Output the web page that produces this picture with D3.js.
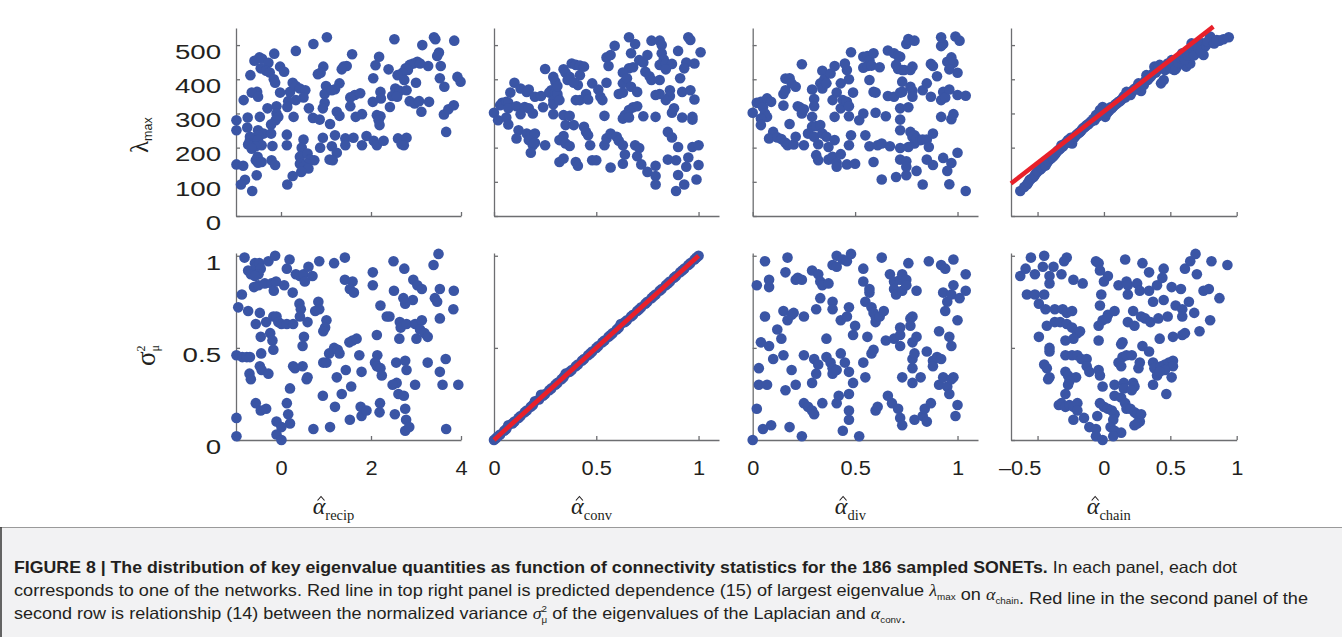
<!DOCTYPE html>
<html lang="en">
<head>
<meta charset="utf-8">
<title>SONET eigenvalue quantities</title>
<script src="https://cdn.jsdelivr.net/npm/d3@7/dist/d3.min.js"></script>
<style>
  body { margin: 0; background: #fff; }
  svg { display: block; }
</style>
</head>
<body>
<script>
// ---- data: [alpha-hat, value] per network ----
var recipLambda = [[1.02,523],[0.72,503],[0.33,483],[-0.15,475],[-0.48,464],[-0.59,454],[-0.42,460],[-0.28,448],[-0.45,432],[-0.33,425],[-0.25,420],[-0.02,437],[0.07,422],[-0.68,412],[1.58,473],[2.18,466],[2.52,517],[3.14,500],[3.40,523],[3.43,517],[3.85,513],[3.51,478],[3.47,468],[3.55,439],[3.27,439],[2.39,429],[2.10,441],[0.94,437],[0.88,419],[0.82,415],[1.39,437],[1.46,439],[1.35,429],[3.03,451],[2.94,446],[2.86,442],[2.82,427],[2.77,432],[2.70,419],[3.09,446],
  [-0.16,400],[-0.13,390],[2.59,412],[2.74,398],[3.00,390],[3.53,403],[3.63,378],[3.92,407],[3.99,393],[2.05,403],[1.00,380],[0.97,357],[1.30,388],[1.20,371],[1.13,368],[0.26,390],[0.20,363],[0.33,380],[0.42,373],[0.54,368],[0.50,347],[0.33,339],[0.16,336],[0.14,319],[-0.02,361],[-0.53,363],[-0.65,361],[-0.51,349],[-0.83,339],[-0.30,315],[-0.10,321],[1.64,354],[1.76,359],[1.54,347],[1.54,321],[2.21,363],[2.22,344],[2.04,334],[2.54,373],[2.64,366],[2.79,368],[2.47,351],[2.58,349],[2.86,336],[2.97,329],[3.07,336],[3.29,334],
  [0.97,331],[0.93,315],[0.62,315],[0.28,290],[-0.10,300],[-0.06,290],[-0.12,280],[-0.22,268],[-0.47,290],[-0.74,288],[-0.99,280],[-0.75,259],[-0.99,251],[1.24,305],[1.30,293],[1.66,290],[1.80,298],[2.13,295],[2.21,292],[2.17,280],[2.19,266],[2.42,319],[3.12,305],[3.62,297],[3.72,312],[3.84,324],[0.71,287],[0.86,282],[1.09,269],[-0.51,251],[-0.39,241],[-0.22,241],[-0.51,236],[0.13,238],[-0.69,232],[3.67,246],
  [-0.69,222],[-0.71,212],[-0.51,222],[-0.43,207],[-0.56,204],[-0.73,209],[-0.65,197],[-0.19,205],[0.13,207],[0.50,224],[0.46,200],[0.93,229],[0.87,200],[1.13,204],[1.20,236],[1.24,185],[1.43,227],[1.61,229],[1.43,207],[1.80,207],[1.90,234],[2.06,220],[2.13,207],[2.28,220],[2.60,227],[2.68,210],[2.79,229],[2.73,207],[0.48,183],[0.42,173],[0.59,183],[0.65,165],[0.74,163],[0.57,153],[0.42,153],[0.50,144],[0.61,139],[0.45,129],[1.08,165],[1.15,163],[-0.52,173],[-0.56,163],[-0.51,156],[-0.43,158],[-0.21,163],[-0.13,149],[-0.99,151],[-0.84,147],
  [-0.54,119],[0.26,117],[0.14,92],[-0.80,106],[-0.89,92],[-0.64,73]];

var convLambda = [[0.00,302],[0.02,280],[0.04,331],[0.03,324],[0.06,334],[0.07,331],[0.07,315],[0.06,288],[0.07,268],[0.08,361],[0.10,390],[0.11,321],[0.13,298],[0.13,373],[0.15,319],[0.16,363],[0.17,370],[0.17,315],[0.19,300],[0.20,349],[0.23,351],[0.24,318],[0.12,251],[0.11,227],[0.16,241],[0.18,236],[0.20,241],[0.17,222],[0.19,207],[0.18,185],[0.20,214],[0.25,207],[0.25,430],[0.29,407],[0.30,393],[0.28,368],[0.27,361],[0.30,363],[0.31,349],[0.29,339],[0.29,327],[0.29,298],[0.31,357],[0.32,339],[0.31,380],
  [0.34,429],[0.35,419],[0.38,446],[0.37,407],[0.40,442],[0.42,440],[0.44,437],[0.42,412],[0.41,383],[0.36,398],[0.39,390],[0.40,339],[0.42,339],[0.45,357],[0.46,341],[0.48,388],[0.51,370],[0.52,349],[0.53,339],[0.55,390],[0.54,293],[0.34,295],[0.37,293],[0.35,266],[0.39,266],[0.44,261],[0.45,246],[0.46,236],[0.47,207],[0.32,222],[0.34,234],[0.35,212],[0.37,205],[0.32,158],[0.34,168],[0.40,158],[0.41,147],[0.48,163],[0.50,163],[0.54,207],[0.55,227],[0.57,142],[0.57,241],[0.60,232],[0.61,220],[0.63,207],[0.64,180],[0.63,153],[0.55,464],[0.57,471],[0.59,498],[0.56,439],
  [0.66,523],[0.69,503],[0.67,476],[0.71,456],[0.73,449],[0.75,471],[0.77,513],[0.81,513],[0.82,500],[0.82,476],[0.83,458],[0.81,442],[0.84,446],[0.87,445],[0.90,483],[0.95,523],[0.96,515],[1.01,479],[0.98,446],[0.94,449],[0.93,432],[0.91,403],[0.74,422],[0.76,409],[0.77,398],[0.66,432],[0.68,435],[0.63,420],[0.64,393],[0.63,388],[0.65,403],[0.67,378],[0.70,363],[0.61,357],[0.63,361],[0.81,398],[0.84,429],[0.86,368],[0.86,351],[0.84,339],[0.81,357],[0.79,354],[0.92,363],[0.96,368],[0.98,341],[0.68,318],[0.70,321],[0.66,310],[0.64,295],[0.63,285],[0.66,288],[0.73,292],[0.79,290],[0.87,302],[0.88,315],[0.92,288],[0.97,290],[0.97,282],[0.69,207],[0.71,199],[0.70,175],[0.72,151],[0.75,129],[0.79,147],[0.79,117],[0.79,92],[0.85,246],[0.87,230],[0.90,202],[0.85,165],[0.89,163],[0.95,171],[0.94,144],[0.90,120],[0.93,92],[0.89,73],[0.97,202],[1.00,207],[1.00,149],[0.99,107]];

var divLambda = [[0.00,302],[0.02,331],[0.04,334],[0.05,318],[0.07,344],[0.09,334],[0.06,300],[0.07,290],[0.04,285],[0.04,266],[0.10,246],[0.08,227],[0.12,230],[0.14,225],[0.16,214],[0.17,207],[0.20,209],[0.21,232],[0.18,269],[0.15,323],[0.15,357],[0.16,368],[0.16,402],[0.18,403],[0.19,388],[0.21,378],[0.24,444],[0.25,207],
  [0.22,321],[0.23,318],[0.24,300],[0.25,312],[0.29,370],[0.30,342],[0.30,321],[0.29,290],[0.29,261],[0.31,263],[0.33,266],[0.27,241],[0.30,232],[0.32,210],[0.31,178],[0.32,163],[0.34,241],[0.36,232],[0.37,202],[0.37,165],[0.39,173],[0.41,155],[0.41,144],[0.40,222],[0.43,181],[0.47,207],[0.48,236],[0.46,151],[0.50,153],[0.33,388],[0.34,425],[0.34,373],[0.35,400],[0.36,388],[0.38,417],[0.40,439],[0.41,361],[0.43,388],[0.45,446],[0.46,427],[0.47,400],[0.48,479],[0.49,361],[0.39,339],[0.43,315],[0.44,339],[0.46,334],[0.47,321],[0.47,292],[0.40,290],
  [0.52,280],[0.54,300],[0.55,236],[0.57,204],[0.59,158],[0.60,302],[0.61,207],[0.63,212],[0.63,107],[0.65,292],[0.67,204],[0.70,114],[0.72,315],[0.72,282],[0.72,251],[0.72,199],[0.72,165],[0.75,119],[0.75,160],[0.75,144],[0.73,393],[0.66,351],[0.69,349],[0.72,361],[0.73,363],[0.76,318],[0.77,378],[0.78,366],[0.78,349],[0.77,246],[0.78,232],[0.79,212],[0.79,236],[0.76,202],[0.54,466],[0.56,468],[0.57,456],[0.59,476],[0.54,434],[0.56,439],[0.58,440],[0.62,435],[0.57,398],[0.59,363],[0.60,361],[0.66,484],[0.69,476],[0.71,468],[0.72,466],[0.70,442],[0.71,430],[0.73,427],[0.74,427],[0.77,427],[0.78,437],[0.75,503],[0.76,518],[0.79,513],
  [0.80,132],[0.83,92],[0.80,227],[0.82,222],[0.83,224],[0.85,224],[0.86,202],[0.88,241],[0.85,165],[0.88,149],[0.83,368],[0.85,388],[0.87,349],[0.87,445],[0.88,439],[0.90,409],[0.92,290],[0.92,339],[0.93,363],[0.94,347],[0.96,370],[0.97,283],[0.98,298],[1.00,354],[1.04,352],[0.93,170],[0.97,155],[0.95,132],[0.96,93],[1.00,185],[1.04,73],[0.92,497],[0.93,503],[0.92,523],[0.99,525],[1.01,513],[0.95,451],[0.97,464],[0.98,448],[0.96,429],[1.00,419]];

var chainLambda = [[-0.63,73],[-0.58,92],[-0.56,105],[-0.53,114],[-0.51,126],[-0.48,136],[-0.46,144],[-0.43,155],[-0.41,165],[-0.38,175],[-0.36,185],[-0.33,197],[-0.32,207],[-0.29,212],[-0.27,222],[-0.24,212],[-0.23,227],[-0.21,236],[-0.18,246],[-0.16,256],[-0.13,266],[-0.11,271],[-0.07,280],[-0.06,295],[-0.03,310],[-0.01,319],[0.01,290],[0.03,305],[0.06,315],[0.08,324],[0.11,334],[0.13,339],[0.16,347],[0.17,363],[0.20,354],[0.22,368],[0.25,378],[0.26,388],[0.28,366],[0.30,383],[0.32,412],[0.33,398],[0.35,407],[0.37,417],[0.38,437],[0.40,427],[0.42,442],[0.43,388],[0.45,398],[0.46,427],[0.48,446],[0.51,456],[0.53,427],[0.55,437],[0.57,456],[0.59,476],[0.60,466],[0.62,437],[0.65,446],[0.66,505],[0.69,476],[0.70,486],[0.72,500],[0.75,471],[0.76,495],[0.80,525],[0.81,515],[0.87,513],[0.94,523],
  [-0.60,85],[-0.57,98],[-0.55,108],[-0.52,120],[-0.50,130],[-0.47,140],[-0.45,150],[-0.44,148],[-0.42,160],[-0.40,168],[-0.39,172],[-0.37,180],[-0.35,190],[-0.34,194],[-0.31,203],[-0.30,210],[-0.28,217],[-0.26,224],[-0.25,229],[-0.22,232],[-0.20,240],[-0.19,243],[-0.17,250],[-0.15,259],[-0.14,262],[-0.12,268],[-0.10,276],[-0.09,278],[-0.08,284],[-0.05,290],[-0.04,300],[-0.02,305],[0.00,312],[0.02,300],[0.04,309],[0.05,318],[0.07,320],[0.09,328],[0.10,330],[0.12,336],[0.14,344],[0.15,350],[0.18,357],[0.19,360],[0.21,362],[0.23,372],[0.24,371],[0.27,380],[0.29,386],[0.31,395],[0.34,404],[0.36,412],[0.39,420],[0.41,432],[0.44,436],[0.47,440],[0.49,444],[0.50,432],[0.52,440],[0.54,430],[0.56,448],[0.58,462],[0.61,458],[0.63,470],[0.64,480],[0.67,488],[0.68,470],[0.71,492],[0.73,482],[0.74,505],[0.77,500],[0.78,510],[0.83,505],[0.85,515],[0.90,517]];

var recipSigma = [[-0.81,0.99],[-0.73,0.92],[-0.67,0.90],[-0.58,0.96],[-0.54,0.94],[-0.48,0.96],[-0.45,0.93],[-0.50,0.90],[-0.58,0.89],[-0.28,0.97],[-0.13,1.00],[0.19,0.98],[0.13,0.93],[0.33,0.90],[0.42,0.89],[0.50,0.90],[0.61,0.94],[0.70,0.89],[0.85,0.97],[1.18,0.96],[1.42,0.99],[1.42,0.87],[1.59,0.86],[1.53,0.82],[1.62,0.80],[2.04,0.91],[2.04,0.84],[2.50,0.97],[2.74,0.93],[2.94,0.87],[3.03,0.84],[3.13,0.82],[3.50,1.01],[3.39,0.95],[3.53,0.82],[3.84,0.81],
  [-0.87,0.79],[-0.95,0.72],[-0.60,0.83],[-0.50,0.84],[-0.36,0.85],[-0.21,0.85],[-0.16,0.81],[-0.11,0.86],[0.07,0.84],[0.26,0.80],[0.41,0.74],[0.44,0.71],[0.42,0.67],[0.53,0.86],[0.83,0.75],[0.85,0.71],[0.76,0.70],[1.01,0.65],[0.98,0.61],[0.94,0.59],[0.59,0.64],[0.51,0.56],[0.48,0.51],[-0.73,0.70],[-0.47,0.69],[-0.56,0.63],[-0.33,0.64],[-0.17,0.67],[-0.10,0.67],[-0.06,0.64],[0.01,0.63],[0.13,0.63],[0.27,0.63],[-0.24,0.58],[-0.19,0.54],[-0.45,0.56],[-0.17,0.49],
  [-0.99,0.46],[-0.86,0.45],[-0.76,0.45],[-0.69,0.45],[-0.44,0.47],[-0.47,0.40],[-0.43,0.38],[-0.70,0.36],[-0.67,0.33],[-0.28,0.36],[0.27,0.40],[0.31,0.39],[0.48,0.40],[0.59,0.34],[0.57,0.33],[0.94,0.42],[1.01,0.42],[1.07,0.47],[1.18,0.50],[1.26,0.49],[1.30,0.47],[1.24,0.34],[1.44,0.38],[1.56,0.29],[1.74,0.46],[1.79,0.37],[1.52,0.53],[1.59,0.54],[1.68,0.55],[2.13,0.57],[2.21,0.73],[2.41,0.67],[2.35,0.67],[2.64,0.64],[2.66,0.61],[2.63,0.55],[2.79,0.63],[2.98,0.63],[3.01,0.55],[3.13,0.65],[3.09,0.60],[3.19,0.58],[3.26,0.56],[2.93,0.76],[2.76,0.74],[2.51,0.81],[2.72,0.77],[3.53,0.66],[3.42,0.77],[3.47,0.75],[3.83,0.71],
  [2.14,0.46],[2.09,0.42],[2.13,0.40],[2.21,0.39],[2.24,0.35],[2.56,0.42],[2.76,0.43],[2.79,0.38],[2.57,0.31],[2.61,0.25],[2.48,0.30],[2.73,0.24],[2.98,0.30],[3.26,0.42],[3.53,0.37],[3.59,0.30],[3.66,0.44],[3.94,0.30],[0.93,0.24],[1.20,0.18],[1.35,0.25],[1.53,0.11],[1.77,0.18],[1.79,0.13],[1.90,0.16],[2.20,0.20],[2.19,0.15],[2.53,0.14],[2.76,0.17],[2.78,0.11],[2.76,0.05],[2.85,0.07],[3.67,0.06],[1.09,0.07],[0.72,0.06],[0.20,0.28],[0.13,0.20],[0.16,0.14],[0.20,0.09],[-0.10,0.10],[0.01,0.07],[-0.10,0.03],[0.01,0.00],[-0.56,0.20],[-0.45,0.16],[-0.33,0.17],[-0.99,0.12],[-0.99,0.02]];

var convSigma = [[0.00,0.00],[0.01,0.01],[0.02,0.02],[0.03,0.03],[0.05,0.05],[0.06,0.06],[0.07,0.08],[0.09,0.09],[0.10,0.10],[0.12,0.12],[0.13,0.13],[0.15,0.15],[0.16,0.16],[0.18,0.18],[0.19,0.19],[0.20,0.21],[0.22,0.22],[0.23,0.245],[0.24,0.24],[0.25,0.25],[0.27,0.27],[0.28,0.28],[0.30,0.30],[0.31,0.31],[0.33,0.33],[0.34,0.34],[0.35,0.36],[0.37,0.37],[0.38,0.38],[0.40,0.40],[0.41,0.41],[0.43,0.43],[0.44,0.44],[0.46,0.46],[0.47,0.47],[0.48,0.48],[0.50,0.50],[0.51,0.51],[0.53,0.53],[0.54,0.54],[0.56,0.56],[0.57,0.57],[0.58,0.58],[0.60,0.60],[0.61,0.61],[0.62,0.63],[0.64,0.64],[0.65,0.65],[0.67,0.67],[0.68,0.68],[0.70,0.70],[0.71,0.71],[0.72,0.72],[0.74,0.74],[0.75,0.75],[0.77,0.77],[0.78,0.78],[0.79,0.79],[0.81,0.81],[0.82,0.82],[0.84,0.84],[0.85,0.85],[0.86,0.86],[0.88,0.88],[0.89,0.89],[0.91,0.91],[0.92,0.92],[0.93,0.93],[0.95,0.95],[0.96,0.96],[0.98,0.98],[0.99,0.99],[1.00,1.00]];

var divSigma = [[0.00,0.00],[0.02,0.84],[0.02,0.17],[0.03,0.39],[0.03,0.30],[0.04,0.53],[0.05,0.06],[0.06,0.97],[0.06,0.67],[0.07,0.30],[0.08,0.51],[0.08,0.83],[0.08,0.87],[0.09,0.08],[0.10,0.44],[0.12,0.60],[0.14,0.55],[0.15,0.70],[0.15,0.46],[0.16,0.27],[0.16,0.91],[0.17,0.99],[0.17,0.65],[0.18,0.07],[0.19,0.68],[0.19,0.38],[0.20,0.69],[0.21,0.87],[0.21,0.30],[0.22,0.88],[0.24,0.87],[0.24,0.02],[0.25,0.67],[0.25,0.46],[0.25,0.20],[0.27,0.18],[0.29,0.16],[0.29,0.92],[0.29,0.31],[0.30,0.14],[0.30,0.44],[0.31,0.71],[0.32,0.90],[0.31,0.36],[0.32,0.41],[0.33,0.86],[0.33,0.77],[0.34,0.84],[0.34,0.20],[0.36,0.55],[0.36,0.45],[0.37,0.85],[0.38,0.42],[0.39,0.75],[0.39,0.39],[0.39,0.36],[0.39,0.71],[0.39,0.95],[0.41,1.00],[0.41,0.94],[0.41,0.20],[0.41,0.38],[0.42,0.24],[0.43,0.47],[0.43,0.65],[0.44,0.05],[0.44,0.98],[0.45,0.42],[0.46,0.67],[0.46,0.97],[0.47,0.37],[0.47,0.72],[0.47,0.25],[0.47,0.11],[0.48,1.01],[0.47,0.16],[0.49,0.57],[0.50,0.62],[0.49,0.31],
  [0.52,0.02],[0.54,0.93],[0.54,0.86],[0.54,0.42],[0.55,0.34],[0.55,0.75],[0.56,0.56],[0.57,0.82],[0.57,0.80],[0.58,0.47],[0.59,0.49],[0.58,0.72],[0.59,0.69],[0.60,0.64],[0.60,0.67],[0.60,0.16],[0.61,0.18],[0.62,0.67],[0.64,0.70],[0.63,0.99],[0.65,0.54],[0.66,0.24],[0.67,0.90],[0.68,0.20],[0.69,0.86],[0.69,0.55],[0.69,0.82],[0.70,0.79],[0.72,0.87],[0.72,0.61],[0.72,0.51],[0.72,0.57],[0.71,0.17],[0.72,0.12],[0.73,0.08],[0.73,0.90],[0.73,0.34],[0.73,0.81],[0.75,0.87],[0.76,0.96],[0.75,0.84],[0.77,0.66],[0.77,0.62],[0.78,0.67],[0.78,0.39],[0.78,0.53],[0.78,0.44],[0.79,0.47],[0.78,0.31],[0.80,0.81],[0.80,0.56],[0.79,0.11],[0.82,0.34],[0.83,0.13],[0.84,0.17],[0.85,0.48],[0.85,0.10],[0.86,0.97],[0.87,0.20],[0.88,0.43],[0.88,0.40],[0.90,0.45],[0.91,0.30],[0.91,0.59],[0.92,0.44],[0.92,0.95],[0.93,0.80],[0.93,0.34],[0.94,0.93],[0.94,0.70],[0.95,0.75],[0.95,0.29],[0.96,0.56],[0.96,0.25],[0.97,0.33],[0.97,0.51],[0.97,0.79],[0.98,0.98],[0.98,0.34],[0.98,0.84],[1.00,0.65],[1.00,0.19],[1.01,0.77],[1.04,0.90],[1.04,0.81],[0.99,0.13]];

var chainSigma = [[-0.55,0.99],[-0.45,1.00],[-0.28,0.99],[-0.30,0.97],[-0.06,0.97],[-0.04,0.96],[0.16,0.98],[0.29,0.96],[0.45,0.93],[0.61,0.93],[0.65,0.97],[0.69,1.01],[0.81,0.97],[0.93,0.95],[-0.63,0.89],[-0.59,0.93],[-0.52,0.90],[-0.46,0.94],[-0.38,0.94],[-0.41,0.89],[-0.32,0.90],[-0.41,0.85],[-0.23,0.87],[-0.16,0.85],[-0.03,0.92],[0.00,0.86],[0.03,0.89],[0.11,0.84],[0.17,0.86],[0.18,0.84],[0.25,0.85],[0.34,0.91],[0.27,0.81],[0.34,0.81],[0.40,0.84],[0.44,0.88],[0.51,0.83],[0.58,0.82],[0.70,0.90],[0.75,0.81],[0.79,0.82],[0.87,0.77],
  [-0.58,0.79],[-0.52,0.79],[-0.45,0.79],[-0.49,0.74],[-0.44,0.71],[-0.37,0.71],[-0.31,0.71],[-0.28,0.69],[-0.24,0.70],[-0.02,0.79],[0.18,0.79],[0.37,0.75],[0.45,0.76],[0.54,0.73],[0.59,0.71],[0.64,0.75],[0.68,0.69],[0.59,0.67],[0.80,0.65],[0.72,0.59],[-0.03,0.73],[-0.04,0.62],[-0.01,0.65],[0.03,0.68],[0.08,0.70],[0.02,0.66],[0.22,0.70],[0.28,0.67],[0.31,0.66],[0.35,0.64],[0.41,0.66],[0.48,0.67],[0.18,0.64],[0.23,0.62],[-0.43,0.62],[-0.37,0.64],[-0.33,0.64],[-0.28,0.63],[-0.24,0.61],[-0.20,0.58],[-0.18,0.59],[-0.23,0.55],[-0.29,0.54],[-0.49,0.56],[0.42,0.55],[0.52,0.56],[0.59,0.57],[0.61,0.58],[-0.04,0.54],[0.14,0.53],[0.13,0.52],[0.29,0.51],[0.34,0.48],
  [-0.41,0.50],[-0.41,0.48],[-0.29,0.46],[-0.24,0.46],[-0.20,0.46],[-0.17,0.44],[-0.13,0.44],[0.14,0.45],[0.17,0.46],[0.21,0.46],[-0.45,0.41],[-0.43,0.39],[-0.41,0.34],[-0.42,0.33],[-0.29,0.37],[-0.27,0.35],[-0.21,0.34],[-0.26,0.32],[-0.27,0.30],[-0.13,0.40],[-0.11,0.37],[-0.04,0.38],[-0.03,0.35],[-0.01,0.29],[0.11,0.42],[0.13,0.40],[0.26,0.39],[0.27,0.42],[0.37,0.42],[0.38,0.39],[0.40,0.35],[0.43,0.40],[0.46,0.41],[0.49,0.42],[0.52,0.43],[0.52,0.40],[0.46,0.38],[0.51,0.34],[0.42,0.37],[0.37,0.30],[0.47,0.25],[0.08,0.30],[0.15,0.31],[0.15,0.28],[0.22,0.31],[0.23,0.29],[0.21,0.27],[0.08,0.24],[0.13,0.23],
  [-0.29,0.25],[-0.34,0.19],[-0.32,0.20],[-0.29,0.18],[-0.26,0.19],[-0.23,0.18],[-0.20,0.20],[-0.20,0.16],[-0.23,0.11],[-0.15,0.12],[-0.03,0.20],[0.00,0.18],[0.03,0.17],[0.06,0.16],[0.08,0.14],[0.07,0.11],[0.05,0.07],[0.08,0.05],[0.13,0.04],[-0.05,0.13],[-0.11,0.07],[-0.06,0.06],[-0.06,0.02],[-0.01,0.00],[0.07,0.02],[0.16,0.20],[0.17,0.17],[0.20,0.17],[0.23,0.15],[0.25,0.14],[0.28,0.14],[0.27,0.10],[0.25,0.09],[0.23,0.08]];

// red reference lines (two end points each)
var chainLambdaFit = [[-0.70,95],[0.824,554]];
var convSigmaFit = [[0,0],[1,1]];

// ticks
var xTickValues = [[0, 2, 4], [0, 0.5, 1], [0, 0.5, 1], [-0.5, 0, 0.5, 1]];
var yTickValues = [[0, 100, 200, 300, 400, 500], [0, 0.5, 1]];
var xDomains = [[-1, 4], [0, 1.1], [0, 1.1], [-0.7, 1]];
var yDomains = [[0, 550], [0, 1.015]];
var xNames = ["recip", "conv", "div", "chain"];

// ---- layout ----
var W = 1342, H = 637;
var colX = [[236, 461], [494, 719], [752.7, 978], [1011, 1236.7]];
var rowY = [[216, 28], [440, 253]];
var dotColor = "#3a55a5", redColor = "#e8202a", axisColor = "#6d6e71", textColor = "#231f20";
var sansFont = "'Liberation Sans', Arial, Helvetica, sans-serif";
var serifFont = "'Liberation Serif', 'Times New Roman', serif";

var svg = d3.select("body").append("svg").attr("width", W).attr("height", H);

var panels = [
  { row: 0, col: 0, points: recipLambda },
  { row: 0, col: 1, points: convLambda },
  { row: 0, col: 2, points: divLambda },
  { row: 0, col: 3, points: chainLambda, fit: chainLambdaFit },
  { row: 1, col: 0, points: recipSigma },
  { row: 1, col: 1, points: convSigma, fit: convSigmaFit },
  { row: 1, col: 2, points: divSigma },
  { row: 1, col: 3, points: chainSigma }
];

function fmt(d) {
  return d < 0 ? "\u2013" + Math.abs(d) : String(d);
}

panels.forEach(function(p) {
  var x = d3.scaleLinear().domain(xDomains[p.col]).range(colX[p.col]);
  var y = d3.scaleLinear().domain(yDomains[p.row]).range(rowY[p.row]);
  var g = svg.append("g");

  var xAxis = d3.axisBottom(x).tickValues(xTickValues[p.col]).tickSize(-4).tickSizeOuter(0)
    .tickPadding(21).tickFormat(p.row === 1 ? fmt : "");
  var yAxis = d3.axisLeft(y).tickValues(yTickValues[p.row]).tickSize(-4).tickSizeOuter(0)
    .tickPadding(10.5).tickFormat(p.col === 0 ? fmt : "");

  var gx = g.append("g").attr("transform", "translate(0," + rowY[p.row][0] + ")").call(xAxis);
  var gy = g.append("g").attr("transform", "translate(" + colX[p.col][0] + ",0)").call(yAxis);

  [gx, gy].forEach(function(a) {
    a.selectAll("path, line").attr("stroke", axisColor).attr("stroke-width", 1.3);
    a.selectAll("text").attr("font-family", sansFont).attr("font-size", 19.5).attr("fill", textColor);
  });
  gx.selectAll("text").attr("transform", "scale(1.12,1)");
  gy.selectAll("text").attr("dy", "0.68em").attr("transform", "scale(1.42,1)");
  // the negative label sits left of its tick in the original
  gx.selectAll("text").filter(function(d) { return d < 0; }).attr("x", -16);

  g.selectAll("circle").data(p.points).enter().append("circle")
    .attr("cx", function(d) { return x(d[0]); })
    .attr("cy", function(d) { return y(d[1]); })
    .attr("r", 5.3)
    .attr("fill", dotColor);

  if (p.fit) {
    var line = d3.line().x(function(d) { return x(d[0]); }).y(function(d) { return y(d[1]); });
    g.append("path").attr("d", line(p.fit))
      .attr("fill", "none").attr("stroke", redColor).attr("stroke-width", 4.5);
  }

  // x axis title on the bottom row: alpha with a hat and a subscript
  if (p.row === 1) {
    var cx = (colX[p.col][0] + colX[p.col][1]) / 2 - 15;
    var t = svg.append("text").attr("y", 514).attr("font-family", serifFont).attr("fill", textColor);
    var ta = t.append("tspan").attr("font-style", "italic").attr("font-size", 24).text("\u03b1");
    t.append("tspan").attr("font-size", 14.5).attr("dy", 6).text(xNames[p.col]);
    var w = t.node().getComputedTextLength();
    var aw = ta.node().getComputedTextLength();
    t.attr("x", cx - w / 2);
    var hx = cx - w / 2 + aw / 2 + 2;
    svg.append("path")
      .attr("d", "M" + (hx - 3.5) + ",500.5 L" + hx + ",496.5 L" + (hx + 3.5) + ",500.5")
      .attr("fill", "none").attr("stroke", textColor).attr("stroke-width", 1.1);
  }
});

// y axis titles
var yl1 = svg.append("text").attr("transform", "translate(148,153) rotate(-90)")
  .attr("fill", textColor);
yl1.append("tspan").attr("font-family", serifFont).attr("font-size", 25).text("\u03bb");
yl1.append("tspan").attr("font-family", sansFont).attr("font-size", 12.5).attr("dy", 4).text("max");

var yl2 = svg.append("text").attr("transform", "translate(155,366) rotate(-90)")
  .attr("fill", textColor).attr("font-family", serifFont);
yl2.append("tspan").attr("font-size", 27).text("\u03c3");
yl2.append("tspan").attr("font-size", 12).attr("dy", -10).text("2");
yl2.append("tspan").attr("font-size", 12).attr("dx", -6).attr("dy", 14).text("\u03bc");

// ---- caption ----
var capTop = 527;
svg.append("rect").attr("x", 0).attr("y", capTop).attr("width", W).attr("height", H - capTop)
  .attr("fill", "#f2f2f3");
svg.append("line").attr("x1", 0).attr("x2", W).attr("y1", capTop + 0.5).attr("y2", capTop + 0.5)
  .attr("stroke", "#9a9a9a").attr("stroke-width", 1);
svg.append("line").attr("x1", 1).attr("x2", 1).attr("y1", capTop).attr("y2", H)
  .attr("stroke", "#333").attr("stroke-width", 1.5);

var capFont = "'Liberation Sans Narrow', 'Arial Narrow', 'Liberation Sans', sans-serif";
function capLine(yPos, len) {
  return svg.append("text").attr("x", 14).attr("y", yPos).attr("font-family", capFont)
    .attr("font-size", 16.5).attr("fill", textColor)
    .attr("textLength", len).attr("lengthAdjust", "spacingAndGlyphs");
}
function sym(t, ch, sub, sup) {
  t.append("tspan").attr("font-family", serifFont).attr("font-style", "italic").text(ch);
  if (sup) {
    t.append("tspan").attr("font-size", 9).attr("dy", -7).text(sup);
    t.append("tspan").attr("font-size", 9).attr("dx", -5).attr("dy", 11).text(sub);
    t.append("tspan").attr("dy", -4).text(" ");
  } else {
    t.append("tspan").attr("font-size", 9).attr("dy", 4).text(sub);
    t.append("tspan").attr("dy", -4).text("");
  }
}

var c1 = capLine(573, 1223);
c1.append("tspan").attr("font-weight", "bold")
  .text("FIGURE 8 | The distribution of key eigenvalue quantities as function of connectivity statistics for the 186 sampled SONETs.");
c1.append("tspan").text(" In each panel, each dot");

var c2 = capLine(596, 1294);
c2.append("tspan").text("corresponds to one of the networks. Red line in top right panel is predicted dependence (15) of largest eigenvalue ");
sym(c2, "\u03bb", "max");
c2.append("tspan").text(" on ");
sym(c2, "\u03b1", "chain");
c2.append("tspan").text(". Red line in the second panel of the");

var c3 = capLine(619, 892);
c3.append("tspan").text("second row is relationship (14) between the normalized variance ");
sym(c3, "\u03c3", "\u03bc", "2");
c3.append("tspan").text("of the eigenvalues of the Laplacian and ");
sym(c3, "\u03b1", "conv");
c3.append("tspan").text(".");
</script>
</body>
</html>
